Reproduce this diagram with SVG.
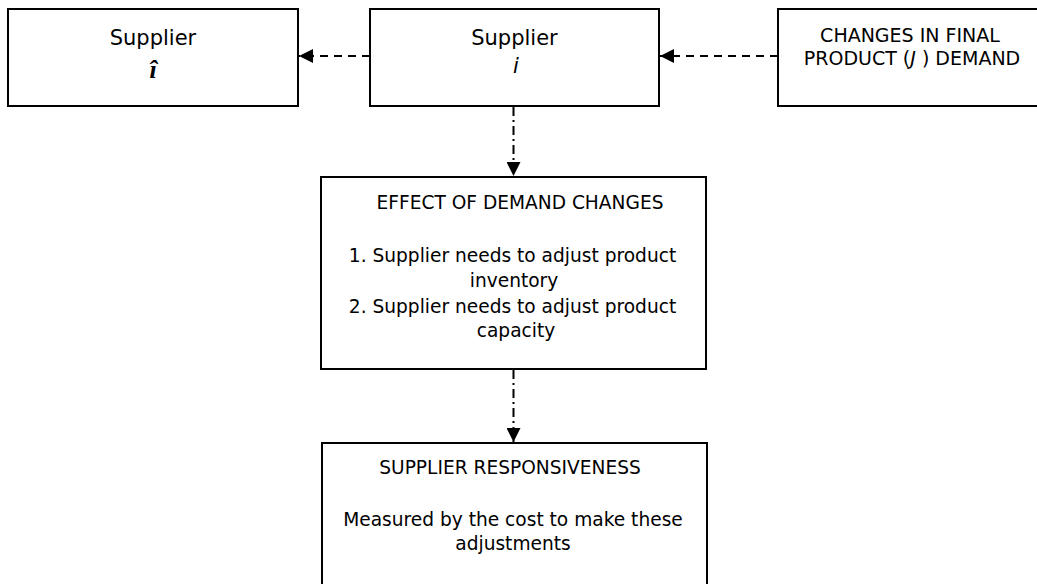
<svg xmlns="http://www.w3.org/2000/svg" width="1037" height="584" viewBox="0 0 1037 584">
  <style>
    .box { fill: #ffffff; stroke: #000000; stroke-width: 2; }
    .t { font-family: "DejaVu Sans", "Liberation Sans", sans-serif; fill: #000000; text-anchor: middle; }
    .big { font-size: 21px; }
    .mid { font-size: 19px; }
    .body { font-size: 18.6px; }
    .it { font-style: italic; }
    .hat { font-family: "Liberation Serif", "DejaVu Serif", serif; font-style: italic; font-weight: bold; font-size: 26px; fill: #000000; text-anchor: middle; }
    .dash { fill: none; stroke: #000000; stroke-width: 2; stroke-dasharray: 8 6; }
    .dashdot { fill: none; stroke: #000000; stroke-width: 2; stroke-dasharray: 9 4 2 4; }
  </style>
  <defs>
    <marker id="arrow" viewBox="0 0 14 14" refX="14" refY="7" markerWidth="14" markerHeight="14" markerUnits="userSpaceOnUse" orient="auto">
      <path d="M0,0 L14,7 L0,14 Z" fill="#000000"/>
    </marker>
  </defs>
  <rect width="1037" height="584" fill="#ffffff"/>

  <g id="connectors">
    <line class="dash" x1="778" y1="56" x2="660" y2="56" marker-end="url(#arrow)"/>
    <line class="dash" x1="370" y1="56" x2="299" y2="56" marker-end="url(#arrow)"/>
    <line class="dashdot" x1="513.5" y1="107" x2="513.5" y2="176" marker-end="url(#arrow)"/>
    <line class="dashdot" x1="513.5" y1="370" x2="513.5" y2="442" marker-end="url(#arrow)"/>
  </g>

  <g id="supplier-ihat">
    <rect class="box" x="8" y="9" width="290" height="97"/>
    <text class="t big" x="153" y="45">Supplier</text>
    <text class="hat" x="153" y="78">î</text>
  </g>

  <g id="supplier-i">
    <rect class="box" x="370" y="9" width="289" height="97"/>
    <text class="t big" x="514.5" y="45">Supplier</text>
    <text class="t big it" x="516" y="73">i</text>
  </g>

  <g id="changes-demand">
    <rect class="box" x="778" y="9" width="270" height="97"/>
    <text class="t mid" x="910" y="42">CHANGES IN FINAL</text>
    <text class="t mid" x="912" y="65">PRODUCT (<tspan class="it">J</tspan> ) DEMAND</text>
  </g>

  <g id="effect">
    <rect class="box" x="321" y="177" width="385" height="192"/>
    <text class="t body" x="520" y="209">EFFECT OF DEMAND CHANGES</text>
    <text class="t body" x="512.5" y="262">1. Supplier needs to adjust product</text>
    <text class="t body" x="514" y="287">inventory</text>
    <text class="t body" x="512.5" y="313">2. Supplier needs to adjust product</text>
    <text class="t body" x="516" y="337">capacity</text>
  </g>

  <g id="responsiveness">
    <rect class="box" x="322" y="443" width="385" height="160"/>
    <text class="t body" x="510" y="474">SUPPLIER RESPONSIVENESS</text>
    <text class="t body" x="513" y="526">Measured by the cost to make these</text>
    <text class="t body" x="513" y="550">adjustments</text>
  </g>
</svg>
